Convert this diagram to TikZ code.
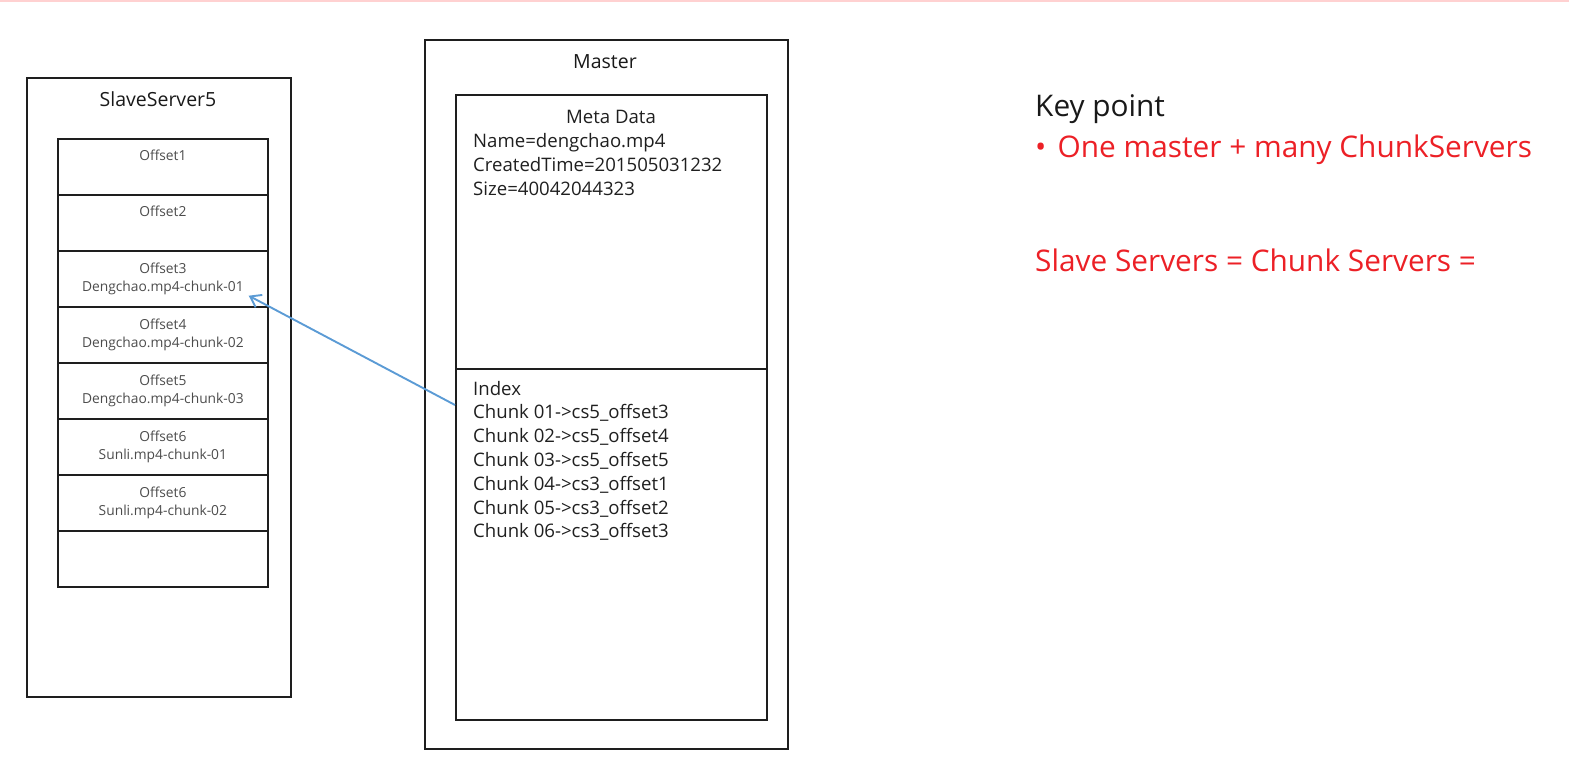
\documentclass[tikz,border=0pt]{standalone}
\usepackage{fontspec}
\setmainfont{Open Sans}
\usetikzlibrary{arrows.meta}
\definecolor{keyred}{RGB}{236,32,38}
\definecolor{linkblue}{RGB}{91,155,213}
\definecolor{boxline}{RGB}{30,30,30}
\tikzset{
  box/.style={draw=boxline, line width=1.7pt, anchor=north west, inner sep=0pt},
  slotbox/.style={box, minimum width=210pt, minimum height=56pt},
  title/.style={anchor=base, inner sep=0pt, text=black!90, font=\fontsize{19.5}{23}\selectfont},
  slottext/.style={anchor=base, inner sep=0pt, text=black!70, font=\fontsize{13.8}{17}\selectfont},
  metatext/.style={anchor=base west, inner sep=0pt, text=black!88, font=\fontsize{18.6}{23}\selectfont},
  keytext/.style={anchor=base west, inner sep=0pt, font=\fontsize{29.8}{34}\selectfont},
}

\begin{document}
\begin{tikzpicture}[x=1pt,y=-1pt]
\useasboundingbox (0,0) rectangle (1569,778);
\fill[red!18] (0,0) rectangle (1569,2.5);

% slave server
\node[box, minimum width=264pt, minimum height=619pt] (slave) at (26,77) {};
\node[title] (slavetitle) at (158,107) {SlaveServer5};
\foreach \i in {1,...,8}
  \node[slotbox] (s\i) at (57,{138+56*(\i-1)}) {};
\foreach \i/\off in {1/Offset1, 2/Offset2}
  \node[slottext] (o\i) at ([yshift=-23pt]s\i.north) {\off};
\foreach \i/\off/\file in {3/Offset3/Dengchao.mp4-chunk-01, 4/Offset4/Dengchao.mp4-chunk-02,
    5/Offset5/Dengchao.mp4-chunk-03, 6/Offset6/Sunli.mp4-chunk-01, 7/Offset6/Sunli.mp4-chunk-02}
{
  \node[slottext] (o\i) at ([yshift=-23pt]s\i.north) {\off};
  \node[slottext] (f\i) at ([yshift=-41pt]s\i.north) {\file};
}

% master
\node[box, minimum width=363pt, minimum height=709pt] (master) at (424,39) {};
\node[title] (mastertitle) at (605,69) {Master};
\node[box, minimum width=311pt, minimum height=274pt] (meta) at (455,94) {};
\node[box, minimum width=311pt, minimum height=351pt] (idx) at (455,368) {};
\node[metatext, anchor=base] (metatitle) at (611,124) {Meta Data};
\foreach \i/\t in {1/Name=dengchao.mp4, 2/CreatedTime=201505031232, 3/Size=40042044323}
  \node[metatext] (m\i) at (473,{124+23.7*\i}) {\t};
\foreach \i/\t in {0/Index, 1/Chunk 01->cs5\_offset3, 2/Chunk 02->cs5\_offset4,
    3/Chunk 03->cs5\_offset5, 4/Chunk 04->cs3\_offset1, 5/Chunk 05->cs3\_offset2,
    6/Chunk 06->cs3\_offset3}
  \node[metatext] (ix\i) at (473,{395+23.8*\i}) {\t};

% link
\coordinate (from) at ([yshift=-37pt]idx.north west);
\coordinate (to) at ([xshift=-20pt,yshift=12pt]s3.south east);
\draw[linkblue, line width=1.9pt, -{Straight Barb[length=10pt,width=14pt]}] (from) -- (to);

% notes
\node[keytext, text=black!90] (key) at (1035,117) {Key point};
\node[keytext, text=keyred] (point) at (1035,158) {•\hspace{0.12em} One master + many ChunkServers};
\node[keytext, text=keyred] (same) at (1035,271) {Slave Servers = Chunk Servers =};

\end{tikzpicture}
\end{document}
